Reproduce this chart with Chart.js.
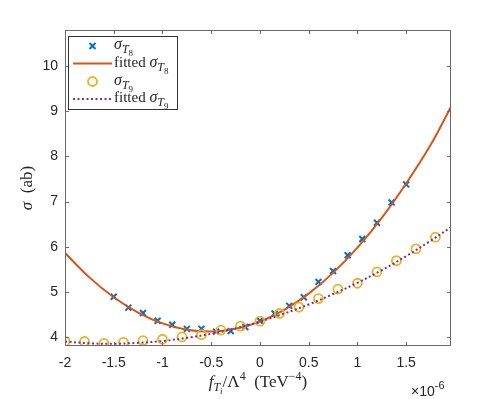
<!DOCTYPE html>
<html>
<head>
<meta charset="utf-8">
<script src="https://cdn.jsdelivr.net/npm/chart.js@4.4.0/dist/chart.umd.min.js"></script>
<style>
  html, body { margin: 0; padding: 0; background: #fff; }
</style>
</head>
<body>
<canvas id="c" width="498" height="399"></canvas>
<script>
// sigma_T8 samples (crosses)
const xT8 = [-1.5, -1.35, -1.2, -1.05, -0.9, -0.75, -0.6, -0.45, -0.3, -0.15, 0, 0.15, 0.3, 0.45, 0.6, 0.75, 0.9, 1.05, 1.2, 1.35, 1.5];
const sigT8 = [4.89, 4.65, 4.53, 4.36, 4.27, 4.18, 4.18, 4.12, 4.13, 4.22, 4.36, 4.52, 4.69, 4.88, 5.22, 5.46, 5.81, 6.17, 6.53, 6.98, 7.38];

// sigma_T9 samples (circles)
const xT9 = [-2, -1.8, -1.6, -1.4, -1.2, -1, -0.8, -0.6, -0.4, -0.2, 0, 0.2, 0.4, 0.6, 0.8, 1, 1.2, 1.4, 1.6, 1.8];
const sigT9 = [3.9, 3.9, 3.86, 3.88, 3.92, 3.95, 4.0, 4.05, 4.15, 4.24, 4.35, 4.52, 4.66, 4.85, 5.06, 5.19, 5.44, 5.69, 5.95, 6.21];

// fitted curves
const xFit = [-2, -1.75, -1.5, -1.25, -1, -0.75, -0.5, -0.25, 0, 0.25, 0.5, 0.75, 1, 1.25, 1.5, 1.75, 1.96];
const fitT8 = [5.86, 5.32, 4.88, 4.54, 4.30, 4.16, 4.12, 4.18, 4.34, 4.60, 4.96, 5.42, 5.98, 6.64, 7.40, 8.25, 9.1];
const fitT9 = [3.90, 3.86, 3.85, 3.87, 3.91, 3.98, 4.07, 4.19, 4.34, 4.52, 4.72, 4.95, 5.20, 5.48, 5.79, 6.13, 6.43];

const xTicks = [-2, -1.5, -1, -0.5, 0, 0.5, 1, 1.5];
const xTickLabels = ['-2', '-1.5', '-1', '-0.5', '0', '0.5', '1', '1.5'];
const yTicks = [4, 5, 6, 7, 8, 9, 10];

const pts = (xs, ys) => xs.map((v, i) => ({ x: v, y: ys[i] }));

const AXC = '#262626';
const FRAME = '#6a6a6a';
const SERIF = '"Liberation Serif", "DejaVu Serif", serif';
const SANS = '"Liberation Sans", Arial, sans-serif';

function runsWidth(ctx, runs) {
  let w = 0;
  runs.forEach(r => { ctx.font = r.f; w += ctx.measureText(r.t).width; });
  return w;
}
function drawRuns(ctx, runs, x, y) {
  let cx = x;
  runs.forEach(r => {
    ctx.font = r.f;
    ctx.fillText(r.t, cx, y + (r.dy || 0));
    cx += ctx.measureText(r.t).width;
  });
}

const sigRuns = (n) => [
  { t: 'σ', f: 'italic 16px ' + SERIF },
  { t: 'T', f: 'italic 12px ' + SERIF, dy: 4 },
  { t: n, f: '9px ' + SERIF, dy: 7 }
];

const decor = {
  id: 'decor',
  afterDraw(chart) {
    const { ctx, chartArea: a, scales: { x, y } } = chart;
    ctx.save();
    ctx.strokeStyle = FRAME;
    ctx.lineWidth = 1;
    ctx.strokeRect(a.left + 0.5, a.top + 0.5, a.right - a.left - 1, a.bottom - a.top - 1);
    ctx.beginPath();
    xTicks.forEach(v => {
      const px = Math.round(x.getPixelForValue(v)) + 0.5;
      ctx.moveTo(px, a.bottom); ctx.lineTo(px, a.bottom - 4);
      ctx.moveTo(px, a.top); ctx.lineTo(px, a.top + 4);
    });
    yTicks.forEach(v => {
      const py = Math.round(y.getPixelForValue(v)) + 0.5;
      ctx.moveTo(a.left, py); ctx.lineTo(a.left + 4, py);
      ctx.moveTo(a.right, py); ctx.lineTo(a.right - 4, py);
    });
    ctx.stroke();

    ctx.fillStyle = AXC;
    ctx.textBaseline = 'alphabetic';
    ctx.textAlign = 'left';

    // x axis title
    const xr = [
      { t: 'f', f: 'italic 17px ' + SERIF },
      { t: 'T', f: 'italic 12px ' + SERIF, dy: 4 },
      { t: 'i', f: 'italic 9px ' + SERIF, dy: 7 },
      { t: '/Λ', f: '17px ' + SERIF },
      { t: '4', f: '12px ' + SERIF, dy: -7 },
      { t: '  (TeV', f: '17px ' + SERIF },
      { t: '−4', f: '12px ' + SERIF, dy: -7 },
      { t: ')', f: '17px ' + SERIF }
    ];
    drawRuns(ctx, xr, 258 - runsWidth(ctx, xr) / 2, 387);

    // y axis title
    ctx.save();
    ctx.translate(32, 188);
    ctx.rotate(-Math.PI / 2);
    const yr = [{ t: 'σ', f: 'italic 17px ' + SERIF }, { t: '  (ab)', f: '17px ' + SERIF }];
    drawRuns(ctx, yr, -runsWidth(ctx, yr) / 2, 0);
    ctx.restore();

    // exponent
    drawRuns(ctx, [
      { t: '×10', f: '14px ' + SANS },
      { t: '-6', f: '11px ' + SANS, dy: -7 }
    ], 411, 396);

    // legend
    const L = { x: 68.5, y: 36.5, w: 109, h: 73 };
    ctx.fillStyle = '#fff';
    ctx.fillRect(L.x, L.y, L.w, L.h);
    ctx.strokeStyle = '#333';
    ctx.strokeRect(L.x, L.y, L.w, L.h);
    const rows = [46, 63.5, 81.5, 99];
    // row 1: crosses
    ctx.strokeStyle = '#0072BD'; ctx.lineWidth = 2;
    ctx.beginPath();
    ctx.moveTo(89.5, rows[0] - 3); ctx.lineTo(95.5, rows[0] + 3);
    ctx.moveTo(95.5, rows[0] - 3); ctx.lineTo(89.5, rows[0] + 3);
    ctx.stroke();
    // row 2: orange line
    ctx.strokeStyle = '#D95319';
    ctx.beginPath(); ctx.moveTo(73, rows[1]); ctx.lineTo(112, rows[1]); ctx.stroke();
    // row 3: circle
    ctx.strokeStyle = '#EDB120'; ctx.lineWidth = 1.8;
    ctx.beginPath(); ctx.arc(92.5, rows[2], 4.5, 0, Math.PI * 2); ctx.stroke();
    // row 4: dotted purple
    ctx.strokeStyle = '#7E2F8E'; ctx.lineWidth = 2; ctx.setLineDash([2, 2.5]);
    ctx.beginPath(); ctx.moveTo(73, rows[3]); ctx.lineTo(112, rows[3]); ctx.stroke();
    ctx.setLineDash([]);

    ctx.fillStyle = AXC;
    const fit = { t: 'fitted ', f: '15px ' + SERIF };
    drawRuns(ctx, sigRuns('8'), 114, rows[0] + 3);
    drawRuns(ctx, [fit].concat(sigRuns('8')), 114, rows[1] + 3);
    drawRuns(ctx, sigRuns('9'), 114, rows[2] + 3);
    drawRuns(ctx, [fit].concat(sigRuns('9')), 114, rows[3] + 3);
    ctx.restore();
  }
};

new Chart(document.getElementById('c'), {
  type: 'line',
  data: {
    datasets: [
      {
        label: 'σT8', data: pts(xT8, sigT8), showLine: false, order: 4,
        pointStyle: 'crossRot', pointRadius: 4.2, pointBorderWidth: 2,
        borderColor: '#0072BD', backgroundColor: '#0072BD'
      },
      {
        label: 'fitted σT8', data: pts(xFit, fitT8), order: 3,
        borderColor: '#D95319', borderWidth: 2, pointRadius: 0, tension: 0.35, fill: false
      },
      {
        label: 'σT9', data: pts(xT9, sigT9), showLine: false, order: 2,
        pointStyle: 'circle', pointRadius: 4.5, pointBorderWidth: 1.8,
        borderColor: '#EDB120', backgroundColor: 'rgba(0,0,0,0)'
      },
      {
        label: 'fitted σT9', data: pts(xFit, fitT9), order: 1,
        borderColor: '#7E2F8E', borderWidth: 2, borderDash: [2, 2.5], pointRadius: 0, tension: 0.35, fill: false
      }
    ]
  },
  options: {
    responsive: false,
    animation: false,
    events: [],
    layout: { padding: { left: 0, top: 30, right: 47, bottom: 0 } },
    plugins: { legend: { display: false }, tooltip: { enabled: false } },
    scales: {
      x: {
        type: 'linear', min: -2, max: 1.96,
        grid: { display: false, drawTicks: false, tickLength: 0 }, border: { display: false },
        afterBuildTicks: s => { s.ticks = xTicks.map(v => ({ value: v })); },
        afterFit: s => { s.height = 53; },
        ticks: {
          padding: 9, color: AXC, font: { family: SANS, size: 14 },
          maxRotation: 0, autoSkip: false,
          callback: v => xTickLabels[xTicks.indexOf(v)]
        }
      },
      y: {
        type: 'linear', min: 3.8, max: 10.8,
        grid: { display: false, drawTicks: false, tickLength: 0 }, border: { display: false },
        afterBuildTicks: s => { s.ticks = yTicks.map(v => ({ value: v })); },
        afterFit: s => { s.width = 65; },
        ticks: {
          padding: 7, color: AXC, font: { family: SANS, size: 14 },
          callback: v => String(v)
        }
      }
    }
  },
  plugins: [decor]
});
</script>
</body>
</html>
